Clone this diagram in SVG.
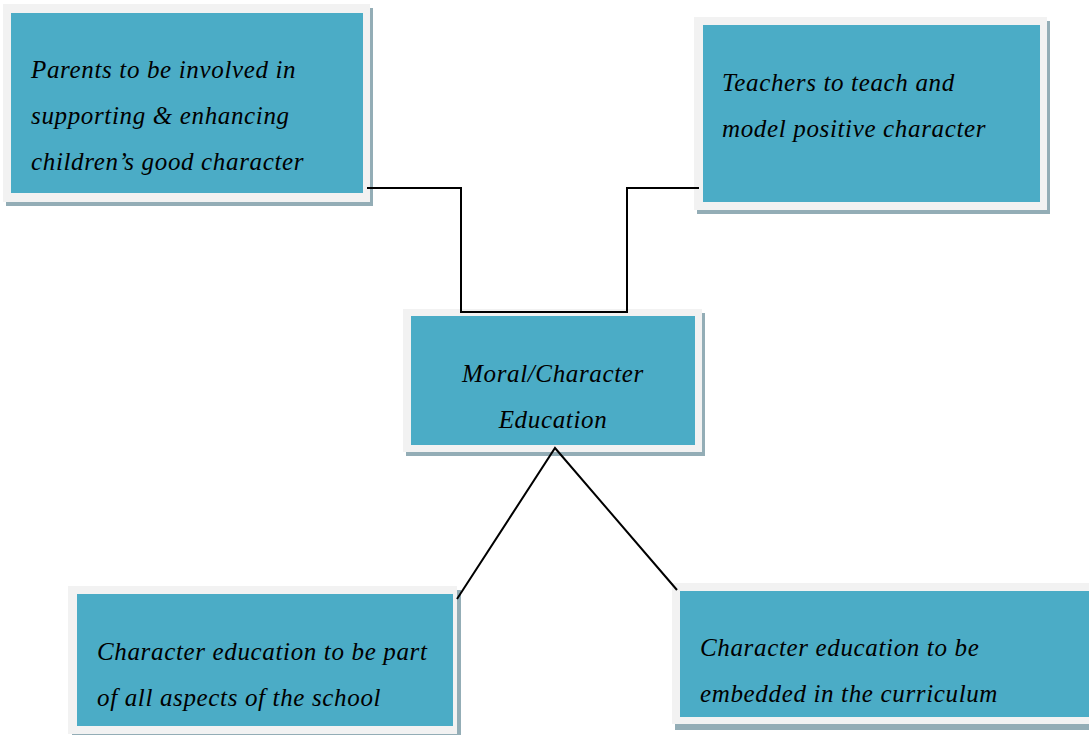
<svg xmlns="http://www.w3.org/2000/svg" width="1089" height="735" viewBox="0 0 1089 735">
<style>
.sh{fill:#93adb6}
.fr{fill:#f2f2f2}
.in{fill:#4bacc6}
.t{font-family:"Liberation Serif","Times New Roman",serif;font-style:italic;font-size:25px;letter-spacing:0.65px;fill:#000}
.c{fill:none;stroke:#000;stroke-width:2}
</style>
<rect width="1089" height="735" fill="#fff"/>
<g id="node-parents">
<rect class="sh" x="6" y="8" width="367" height="198"/>
<rect class="fr" x="3" y="4" width="367" height="198"/>
<rect class="in" x="11" y="13" width="352" height="180"/>
<text class="t" x="31" y="78">Parents to be involved in</text>
<text class="t" x="31" y="124">supporting &amp; enhancing</text>
<text class="t" x="31" y="170">children’s good character</text>
</g>
<g id="node-teachers">
<rect class="sh" x="697" y="21" width="353" height="193"/>
<rect class="fr" x="694" y="17" width="353" height="193"/>
<rect class="in" x="703" y="25" width="337" height="177"/>
<text class="t" x="722" y="91">Teachers to teach and</text>
<text class="t" x="722" y="137">model positive character</text>
</g>
<g id="node-moral">
<rect class="sh" x="406" y="313" width="299" height="143"/>
<rect class="fr" x="403" y="309" width="299" height="143"/>
<rect class="in" x="411" y="316" width="284" height="129"/>
<text class="t" x="553" y="382" text-anchor="middle">Moral/Character</text>
<text class="t" x="553" y="428" text-anchor="middle">Education</text>
</g>
<g id="node-school">
<rect class="sh" x="72" y="590" width="389" height="148"/>
<rect class="fr" x="68" y="586" width="389" height="148"/>
<rect class="in" x="77" y="594" width="376" height="132"/>
<text class="t" x="97" y="660">Character education to be part</text>
<text class="t" x="97" y="706">of all aspects of the school</text>
</g>
<g id="node-curriculum">
<rect class="sh" x="675" y="587" width="420" height="143"/>
<rect class="fr" x="672" y="583" width="420" height="141"/>
<rect class="in" x="680" y="591" width="412" height="126"/>
<text class="t" x="700" y="656">Character education to be</text>
<text class="t" x="700" y="702">embedded in the curriculum</text>
</g>
<g id="connectors">
<polyline class="c" points="367,188 461,188 461,312 627,312 627,188 699,188"/>
<polyline class="c" points="457,599 555,448 677,590"/>
</g>
</svg>
